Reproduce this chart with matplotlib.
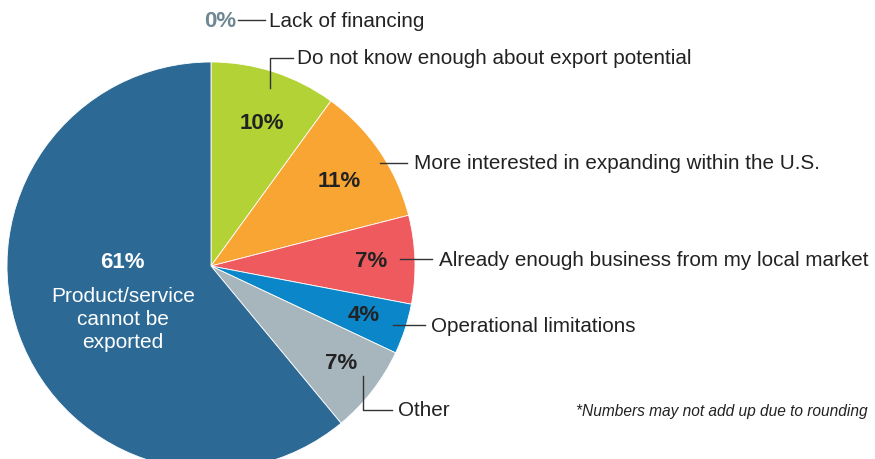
import matplotlib
matplotlib.use("Agg")
import matplotlib.pyplot as plt

categories = ["Lack of financing", "Do not know enough about export potential",
              "More interested in expanding within the U.S.",
              "Already enough business from my local market",
              "Operational limitations", "Other", "Product/service\ncannot be\nexported"]
values = [0, 10, 11, 7, 4, 7, 61]
pct_labels = ["0%", "10%", "11%", "7%", "4%", "7%", "61%"]
colors = ["#b2d235", "#b2d235", "#f9a533", "#ef5a5f", "#0a86c9", "#a7b5bd", "#2c6a95"]

plt.rcParams["font.family"] = ["Liberation Sans", "DejaVu Sans"]

W, H = 875, 459
fig = plt.figure(figsize=(W / 100, H / 100), dpi=100)
ax = fig.add_axes([0, 0, 1, 1])

cx, cy, R = 211, H - 266, 204
ax.pie(values, colors=colors, startangle=90, counterclock=False,
       center=(cx, cy), radius=R, wedgeprops=dict(linewidth=0.6, edgecolor="white"),
       frame=True)
ax.set_xlim(0, W)
ax.set_ylim(0, H)
ax.set_aspect("equal")
ax.axis("off")

dark = "#222222"
fs = 14.9
pfs = 16

def Y(y):
    return H - y - 1.5

# percentage labels inside slices
pos = {1: (262, 122), 2: (339, 180), 3: (371, 260), 4: (364, 314), 5: (341, 362)}
for i, (x, y) in pos.items():
    ax.text(x, Y(y), pct_labels[i], ha="center", va="center", fontsize=pfs,
            fontweight="bold", color=dark)
ax.text(122, Y(261), pct_labels[6], ha="center", va="center", fontsize=pfs,
        fontweight="bold", color="white")
ax.text(123, Y(318), categories[6], ha="center", va="center", fontsize=15,
        color="white", linespacing=1.28)

lc = "#333333"
lw = 1.0

def L(y):
    return H - y

# 0% Lack of financing
ax.text(220, Y(20), pct_labels[0], ha="center", va="center", fontsize=pfs,
        fontweight="bold", color="#6f8792")
ax.plot([238, 265], [L(20), L(20)], color=lc, lw=lw)
ax.text(269, Y(20), categories[0], ha="left", va="center", fontsize=fs, color=dark)
# Do not know enough
ax.plot([270, 270, 293], [L(88), L(58), L(58)], color=lc, lw=lw)
ax.text(297, Y(57), categories[1], ha="left", va="center", fontsize=fs, color=dark)
# More interested
ax.plot([380, 407], [L(163), L(163)], color=lc, lw=lw)
ax.text(414, Y(162), categories[2], ha="left", va="center", fontsize=fs, color=dark)
# Already enough
ax.plot([400, 432], [L(259), L(259)], color=lc, lw=lw)
ax.text(439, Y(259), categories[3], ha="left", va="center", fontsize=fs, color=dark)
# Operational
ax.plot([393, 425], [L(325), L(325)], color=lc, lw=lw)
ax.text(431, Y(325), categories[4], ha="left", va="center", fontsize=fs, color=dark)
# Other
ax.plot([363, 363, 392], [L(376), L(410), L(410)], color=lc, lw=lw)
ax.text(398, Y(409), categories[5], ha="left", va="center", fontsize=fs, color=dark)

ax.text(868, Y(410), "*Numbers may not add up due to rounding", ha="right",
        va="center", fontsize=11.2, style="italic", color=dark)

fig.savefig("out.png", dpi=100)
